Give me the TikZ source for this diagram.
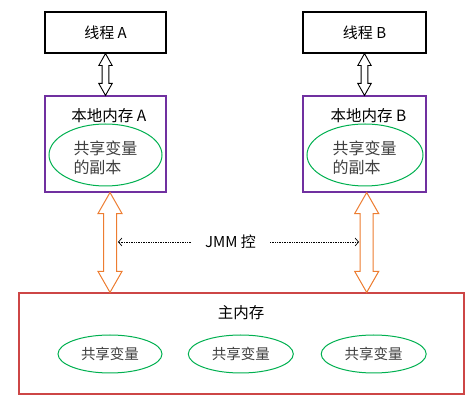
\documentclass[tikz,border=0pt]{standalone}
\usepackage{fontspec}
\setmainfont{Noto Sans CJK SC}
\usetikzlibrary{arrows.meta,calc}
\definecolor{purp}{RGB}{112,48,160}
\definecolor{grn}{RGB}{0,176,80}
\definecolor{org}{RGB}{237,125,49}
\definecolor{redb}{RGB}{205,70,70}
\definecolor{txtg}{RGB}{64,64,64}
\newcommand\vdarrow[6]{%
  \draw[#1] let \p1=#2, \p2=#3 in
    (\x1,\y1) -- (\x1+#5pt,\y1-#6pt) -- (\x1+#4pt,\y1-#6pt) -- (\x1+#4pt,\y2+#6pt)
    -- (\x1+#5pt,\y2+#6pt) -- (\x1,\y2) -- (\x1-#5pt,\y2+#6pt) -- (\x1-#4pt,\y2+#6pt)
    -- (\x1-#4pt,\y1-#6pt) -- (\x1-#5pt,\y1-#6pt) -- cycle;}
\begin{document}
\begin{tikzpicture}[x=1pt,y=-1pt,
  threadbox/.style={draw=black,line width=1.1pt,minimum width=121pt,minimum height=41pt,inner sep=0pt,font=\fontsize{15}{18}\selectfont},
  localbox/.style={draw=purp,line width=1.1pt,minimum height=96pt,inner sep=0pt},
  title/.style={inner sep=0pt,font=\fontsize{15.5}{18}\selectfont},
  copyell/.style={draw=grn,line width=1pt,ellipse,minimum height=62pt,inner sep=0pt},
  varell/.style={draw=grn,line width=1pt,ellipse,minimum width=104pt,minimum height=38pt,inner sep=0pt,text=txtg,font=\fontsize{14.5}{17}\selectfont},
  copytext/.style={align=left,text=txtg,inner sep=0pt,font=\fontsize{16}{19}\selectfont},
  whitearrow/.style={draw=black,fill=white,line width=0.9pt,line join=miter},
  orangearrow/.style={draw=org,fill=white,line width=1pt,line join=miter},
  jmmline/.style={densely dotted,line width=0.7pt,-{Straight Barb[length=3.5pt,width=8pt]}}
]
\useasboundingbox (0,0) rectangle (472,403);
\tikzset{ellipse/.style={shape=ellipse}}
% threads
\node[threadbox] (ta) at (105.5,32.5) {线程 A};
\node[threadbox,minimum width=123pt] (tb) at (364.5,32.5) {线程 B};
% local memories
\node[localbox,minimum width=121pt] (la) at (105.5,144) {};
\node[localbox,minimum width=123pt] (lb) at (364.5,144) {};
\node[title] (lat) at (108.8,116) {本地内存 A};
\node[title] (lbt) at (368.5,116) {本地内存 B};
\draw[draw=grn,line width=1pt] (105.5,155) ellipse [x radius=56.5, y radius=31];
\node[copytext] (ca) at (105.5,157.5) {共享变量\\的副本};
\draw[draw=grn,line width=1pt] (365,155) ellipse [x radius=58, y radius=31];
\node[copytext] (cb) at (364.7,157.5) {共享变量\\的副本};
% main memory
\node[draw=redb,line width=1.2pt,minimum width=445pt,minimum height=101pt,inner sep=0pt] (mm) at (241.5,343.5) {};
\node[title] (mmt) at (241,313) {主内存};
\draw[draw=grn,line width=1pt] (110,354) ellipse [x radius=52, y radius=19];
\node[text=txtg,inner sep=0pt,font=\fontsize{14.5}{17}\selectfont] (v1) at (110,354) {共享变量};
\draw[draw=grn,line width=1pt] (240.8,354) ellipse [x radius=52.5, y radius=19];
\node[text=txtg,inner sep=0pt,font=\fontsize{14.5}{17}\selectfont] (v2) at (240.8,354) {共享变量};
\draw[draw=grn,line width=1pt] (373.7,354) ellipse [x radius=52.5, y radius=19];
\node[text=txtg,inner sep=0pt,font=\fontsize{14.5}{17}\selectfont] (v3) at (373.7,354) {共享变量};
% thread <-> local arrows
\vdarrow{whitearrow}{(ta.south)}{(la.north)}{3.4}{6.7}{12}
\vdarrow{whitearrow}{(tb.south)}{(lb.north)}{3.4}{6.7}{12}
% local <-> main arrows
\coordinate (oat) at ($(la.south)+(4.5,0)$);
\coordinate (oab) at (oat |- mm.north);
\coordinate (obt) at ($(lb.south)+(2.2,0)$);
\coordinate (obb) at (obt |- mm.north);
\vdarrow{orangearrow}{(oat)}{(oab)}{6.5}{12}{21}
\vdarrow{orangearrow}{(obt)}{(obb)}{6.5}{12}{21}
% JMM control
\node[inner ysep=0pt,inner xsep=14pt,font=\fontsize{15}{18}\selectfont] (jmm) at (230.5,242) {JMM 控};
\coordinate (dl) at (118,242);
\coordinate (dr) at (359,242);
\draw[jmmline] (jmm.west) -- (dl);
\draw[jmmline] (jmm.east) -- (dr);
\end{tikzpicture}
\end{document}
